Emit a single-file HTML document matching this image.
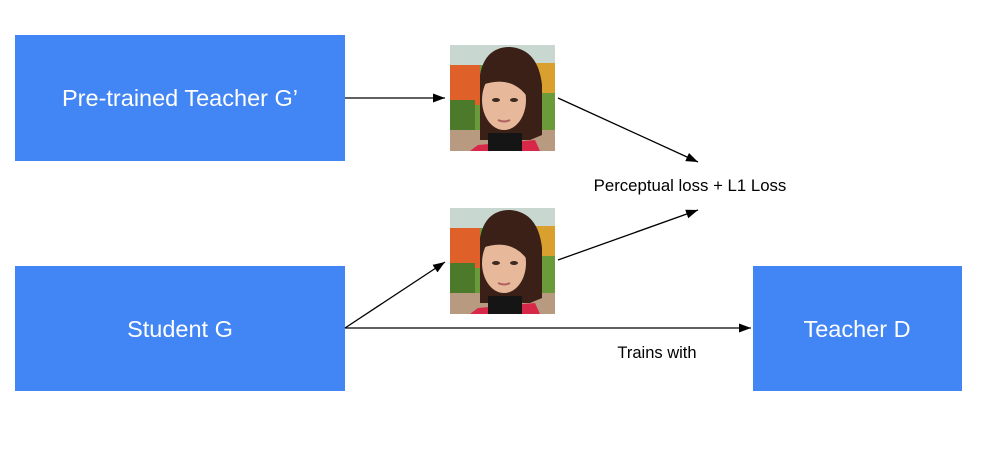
<!DOCTYPE html>
<html><head><style>body{margin:0;background:#fff}svg{display:block}</style></head><body>
<svg width="986" height="469" viewBox="0 0 986 469" xmlns="http://www.w3.org/2000/svg" font-family="Liberation Sans, sans-serif">
<defs>
<marker id="a" markerWidth="12" markerHeight="9" refX="12" refY="4.5" orient="auto" markerUnits="userSpaceOnUse"><path d="M0,0L12,4.5L0,9z" fill="#000"/></marker>
<g id="face">
<rect width="105" height="106" fill="#6a9a3a"/>
<rect x="0" y="0" width="105" height="20" fill="#c8d8d0"/>
<rect x="0" y="20" width="30" height="40" fill="#e0602a"/>
<rect x="80" y="18" width="25" height="30" fill="#d9a030"/>
<rect x="0" y="55" width="25" height="30" fill="#4a7a2a"/>
<rect x="0" y="85" width="105" height="21" fill="#b89a80"/>
<path d="M28,100 L20,106 L90,106 L85,95 Z" fill="#d8284a"/>
<path d="M30,30 Q35,2 60,2 Q88,4 92,40 L92,90 L80,95 L30,95 Z" fill="#3a2016"/>
<ellipse cx="54" cy="55" rx="22" ry="30" fill="#e8b89a"/>
<path d="M32,40 Q45,12 75,20 Q80,35 76,50 Q60,30 32,40Z" fill="#3a2016"/>
<rect x="38" y="88" width="34" height="18" fill="#151515"/>
<ellipse cx="46" cy="55" rx="4" ry="2" fill="#3a2a22"/>
<ellipse cx="64" cy="55" rx="4" ry="2" fill="#3a2a22"/>
<path d="M48,75 Q54,78 60,75" stroke="#b06060" stroke-width="2" fill="none"/>
</g>
</defs>
<rect x="15" y="35" width="330" height="126" fill="#4285f4"/>
<rect x="15" y="266" width="330" height="125" fill="#4285f4"/>
<rect x="753" y="266" width="209" height="125" fill="#4285f4"/>
<text x="180" y="106" fill="#fff" font-size="23.5" text-anchor="middle">Pre-trained Teacher G’</text>
<text x="180" y="337" fill="#fff" font-size="23.5" text-anchor="middle">Student G</text>
<text x="857" y="337" fill="#fff" font-size="23.5" text-anchor="middle">Teacher D</text>
<use href="#face" x="450" y="45"/>
<use href="#face" x="450" y="208"/>
<g stroke="#000" stroke-width="1.3" fill="none" marker-end="url(#a)">
<line x1="345" y1="98" x2="445" y2="98"/>
<line x1="558" y1="98" x2="698" y2="162"/>
<line x1="558" y1="260" x2="698" y2="210"/>
<line x1="345" y1="328" x2="445" y2="262"/>
<line x1="345" y1="328" x2="751" y2="328"/>
</g>
<text x="690" y="191" font-size="16.8" text-anchor="middle" fill="#000">Perceptual loss + L1 Loss</text>
<text x="657" y="358" font-size="16.5" text-anchor="middle" fill="#000">Trains with</text>
</svg>
</body></html>
